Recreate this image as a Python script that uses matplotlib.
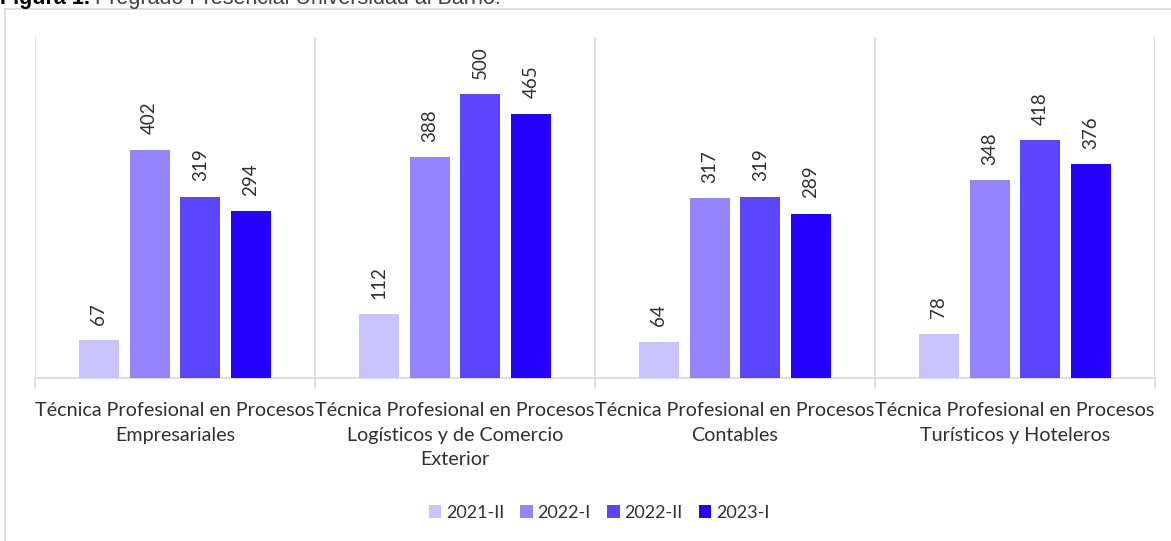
import matplotlib
matplotlib.use("Agg")
import matplotlib.pyplot as plt
import numpy as np
from matplotlib.patches import Rectangle

categories = [
    "Técnica Profesional en Procesos\nEmpresariales",
    "Técnica Profesional en Procesos\nLogísticos y de Comercio\nExterior",
    "Técnica Profesional en Procesos\nContables",
    "Técnica Profesional en Procesos\nTurísticos y Hoteleros",
]
series_names = ["2021-II", "2022-I", "2022-II", "2023-I"]
v_2021_II = [67, 112, 64, 78]
v_2022_I = [402, 388, 317, 348]
v_2022_II = [319, 500, 319, 418]
v_2023_I = [294, 465, 289, 376]
series_values = [v_2021_II, v_2022_I, v_2022_II, v_2023_I]
colors = ["#C9C3FF", "#9484FF", "#5B45FF", "#2500FF"]

W, H = 1171, 541
fig = plt.figure(figsize=(W / 100, H / 100), dpi=100)
fig.patch.set_facecolor("white")

FONT = "Lato"
WT = "normal"
TXT = "#303030"
GRID = "#D9D9D9"

# outer frame
fig.patches.append(Rectangle((5 / W, -0.2), 1.5, 1.2 - 9 / H, transform=fig.transFigure,
                             fill=False, edgecolor=GRID, linewidth=1.2, zorder=0))

# partially cut title (as in the reference)
fig.text(0 / W, 1 - 4 / H, "Figura 1.", fontfamily="Liberation Sans", fontweight="bold",
         fontsize=15.5, va="baseline", ha="left", color="black")
fig.text(95 / W, 1 - 4 / H, "Pregrado Presencial Universidad al Barrio.", fontfamily="Liberation Sans",
         fontsize=15.5, va="baseline", ha="left", color="#404040")

ax = fig.add_axes([35 / W, 1 - 378 / H, (1155 - 35) / W, (378 - 37) / H])
x = np.arange(len(categories))
bw = 40 / 280
step = 50.7 / 280
for i, (name, vals, c) in enumerate(zip(series_names, series_values, colors)):
    pos = x + (i - 1.5) * step
    ax.bar(pos, vals, width=bw, color=c, label=name, zorder=3)
    for p, v in zip(pos, vals):
        ax.annotate(str(v), (p, v), xytext=(0, 11), textcoords="offset points",
                    rotation=90, ha="center", va="bottom", fontsize=13.5,
                    fontfamily=FONT, fontweight=WT, color=TXT)

ax.set_xlim(-0.5, len(categories) - 0.5)
ax.set_ylim(0, 600)
ax.set_yticks([])
for s in ["top", "right", "left"]:
    ax.spines[s].set_visible(False)
ax.spines["bottom"].set_color(GRID)
ax.spines["bottom"].set_linewidth(1.2)
for b in np.arange(-0.5, len(categories), 1.0):
    ax.axvline(b, color=GRID, linewidth=1.2, zorder=1)
ax.set_xticks(np.arange(-0.5, len(categories), 1.0))
ax.set_xticklabels([])
ax.tick_params(axis="x", length=7, color=GRID, width=1.2)
for xi, lab in zip(x, categories):
    ax.text(xi, -24 / 341 * 600, lab, ha="center", va="top",
            fontsize=14.2, fontfamily=FONT, fontweight=WT, color=TXT, linespacing=1.55)

leg = fig.legend(loc="center", bbox_to_anchor=(599 / W, 1 - 513 / H), ncol=4, frameon=False,
                 prop={"family": FONT, "weight": WT, "size": 13}, handlelength=0.7, handleheight=0.7,
                 handletextpad=0.25, columnspacing=0.9)
for t in leg.get_texts():
    t.set_color(TXT)

fig.savefig("out.png", dpi=100)
